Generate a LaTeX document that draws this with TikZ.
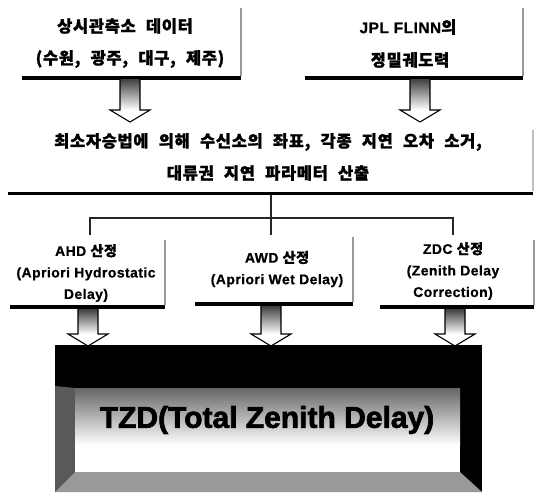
\documentclass[tikz,border=0pt]{standalone}
\usepackage{fontspec}
\usetikzlibrary{calc}
\newfontfamily\kr{Noto Sans CJK KR}[WordSpace=2.3,LetterSpace=4,BoldFeatures={FakeBold=1.2}]
\newfontfamily\lat{Liberation Sans}[LetterSpace=3,BoldFeatures={FakeBold=0.6}]
\newfontfamily\latb{Liberation Sans}[BoldFeatures={FakeBold=2.2}]
\tikzset{
  boxarea/.style={inner sep=0pt, minimum width=#1},
  ktext/.style={font=\kr\bfseries\fontsize{16.5}{19}\selectfont, inner sep=0pt},
  btext/.style={font=\bfseries\fontsize{14}{21.5}\selectfont, align=center, inner sep=0pt},
  botline/.style={line width=3.5pt, black},
  sideline/.style={line width=2.5pt, black!40},
  bracket/.style={line width=1.2pt, black!85},
  shaftfill/.style={top color=black!75, bottom color=white},
  arrowline/.style={line width=1.1pt, black, line join=miter},
}
\newcommand{\blkarrow}[2]{%
  \fill[shaftfill] ($(#1)+(-10,0)$) rectangle ($(#2)+(10,-12)$);
  \draw[arrowline] ($(#1)+(-10,0)$) -- ($(#2)+(-10,-12)$) -- ($(#2)+(-20,-12)$)
     -- (#2) -- ($(#2)+(20,-12)$) -- ($(#2)+(10,-12)$) -- ($(#1)+(10,0)$);
}
\begin{document}
\begin{tikzpicture}[x=1pt,y=-1pt]
\fill[white] (0,0) rectangle (535,493);
\useasboundingbox (0,0) rectangle (535,493);

% box areas
\node[boxarea=219pt, minimum height=70pt] (tl) at (131.5,43) {};
\node[boxarea=218pt, minimum height=70pt] (tr) at (414,43) {};
\node[boxarea=525pt, minimum height=68pt] (mid) at (270.5,159) {};
\node[boxarea=155pt, minimum height=67pt] (ahd) at (87.5,273.5) {};
\node[boxarea=158pt, minimum height=67pt] (awd) at (274,270.5) {};
\node[boxarea=154pt, minimum height=67pt] (zdc) at (457,273.5) {};
\node[boxarea=427pt, minimum height=147pt] (tzdbox) at (268.5,418.5) {};

% box edges
\foreach \b in {tl,tr,ahd,awd,zdc}{
  \draw[sideline] (\b.north east) -- ($(\b.south east)+(0,-2)$);
  \draw[botline] (\b.south west) -- (\b.south east);
}
\draw[sideline, black!25] ($(mid.north east)+(0,5)$) -- ($(mid.south east)+(0,-2)$);
\draw[botline, line width=3pt] (mid.south west) -- (mid.south east);

% texts
\node[ktext] (t1a) at (125,26) {상시관측소 데이터};
\node[ktext] (t1b) at (130,59) {(수원, 광주, 대구, 제주)};
\node[ktext] (t2a) at (408,27) {{\lat\bfseries\fontsize{15.5}{18}\selectfont JPL FLINN}의};
\node[ktext] (t2b) at (410,60) {정밀궤도력};
\node[ktext] (m1) at (268,142) {최소자승법에 의해 수신소의 좌표, 각종 지연 오차 소거,};
\node[ktext] (m2) at (268,173) {대류권 지연 파라메터 산출};

\node[btext] (ahdt) at (86,273) {{\lat AHD }{\kr 산정}\\{\lat (Apriori Hydrostatic}\\{\lat Delay)}};
\node[btext] (awdt) at (277,269) {{\lat AWD }{\kr 산정}\\{\lat (Apriori Wet Delay)}};
\node[btext] (zdct) at (453,271) {{\lat ZDC }{\kr 산정}\\{\lat (Zenith Delay}\\{\lat Correction)}};

% top arrows
\coordinate (a1s) at (130,79);  \coordinate (a1t) at (130,122);
\coordinate (a2s) at (420,79);  \coordinate (a2t) at (420,122);
\blkarrow{a1s}{a1t}
\blkarrow{a2s}{a2t}

% bracket
\coordinate (hub) at (271,194.5);
\coordinate (bar) at (271,218);
\coordinate (dl) at (90,235);
\coordinate (dm) at (271,235);
\coordinate (dr) at (453,235);
\draw[bracket] (hub) -- (dm);
\draw[bracket] (dl) |- (bar) -| (dr);

% TZD box
\fill[black] (tzdbox.north west) rectangle (tzdbox.south east);
\fill[black!65] (55,386) -- (75,388) -- (75,472) -- (55,492) -- cycle;
\fill[black!40] (55,492) -- (75,472) -- (460,472) -- (482,492) -- cycle;
\shade[top color=black!60, bottom color=white] (75,388) rectangle (460,445);
\fill[white] (75,445) rectangle (460,472);
\node[font=\latb\bfseries\fontsize{30}{36}\selectfont, inner sep=0pt] (tzd) at (267,420) {TZD(Total Zenith Delay)};

% bottom arrows
\coordinate (b1s) at (88,309);  \coordinate (b1t) at (88,346);
\coordinate (b2s) at (271,306); \coordinate (b2t) at (271,346);
\coordinate (b3s) at (455,309); \coordinate (b3t) at (455,346);
\blkarrow{b1s}{b1t}
\blkarrow{b2s}{b2t}
\blkarrow{b3s}{b3t}
\end{tikzpicture}
\end{document}
